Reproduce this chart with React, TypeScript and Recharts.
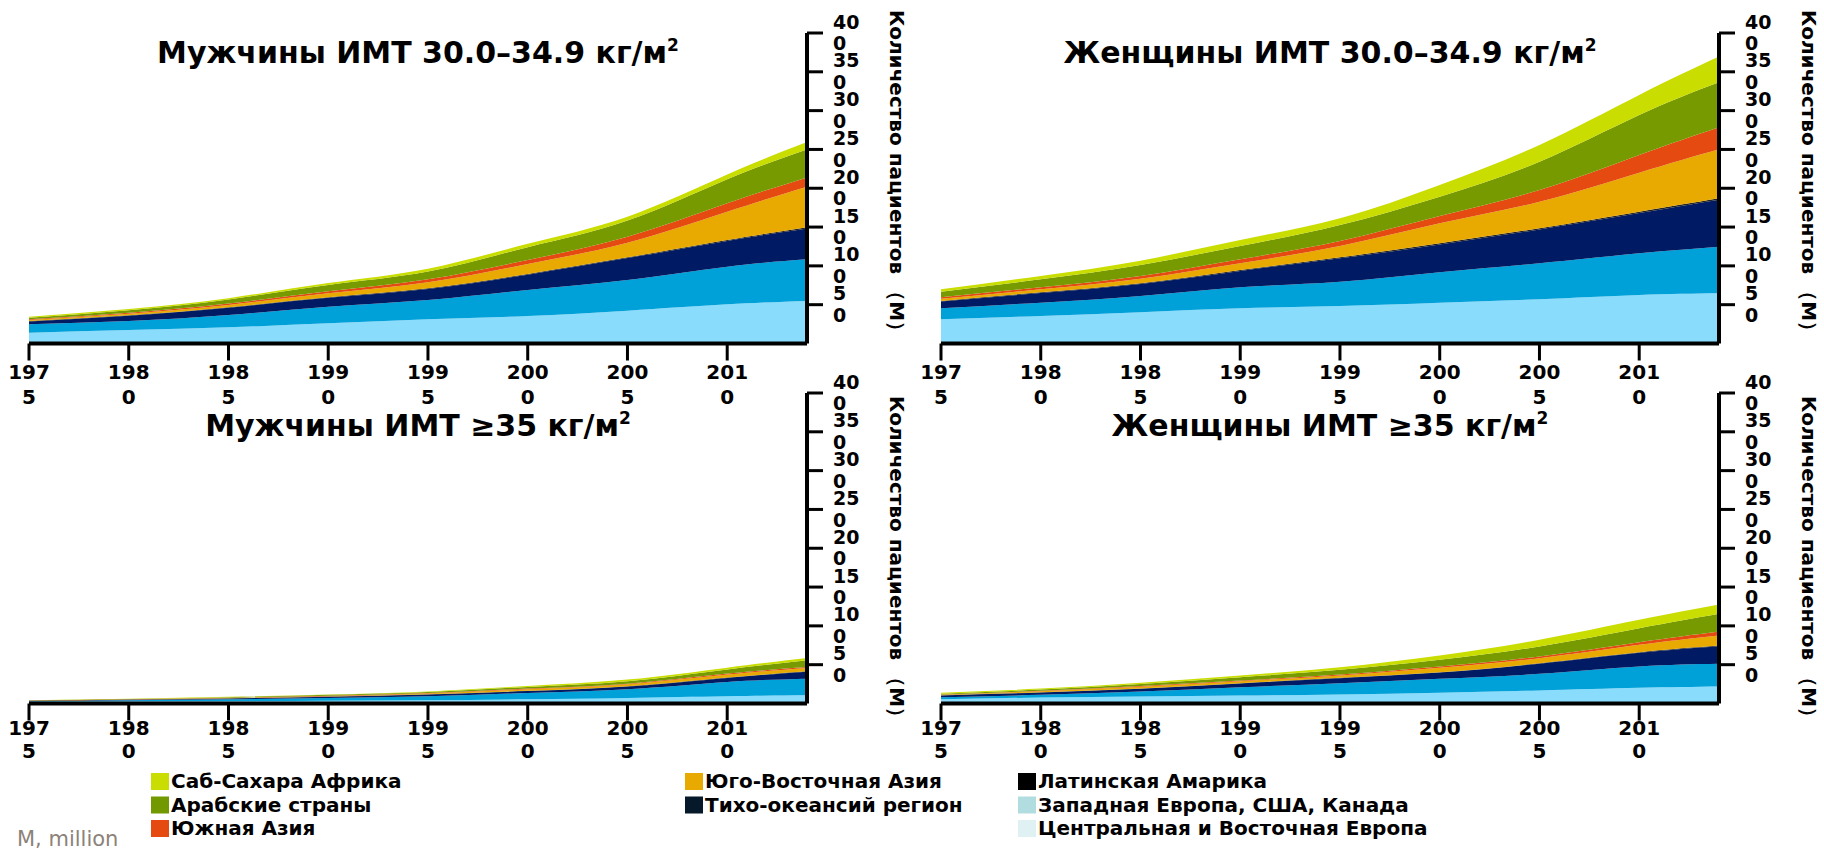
import { AreaChart, Area, XAxis, YAxis } from "recharts";

const FONT = "'DejaVu Sans', Verdana, sans-serif";

const years = [1975, 1980, 1985, 1990, 1995, 2000, 2005, 2010, 2014];
const xTicks = [1975, 1980, 1985, 1990, 1995, 2000, 2005, 2010];
const yTicks = [50, 100, 150, 200, 250, 300, 350, 400];

// Мужчины ИМТ 30.0–34.9, млн, снизу вверх
const m30Cee = [13.9, 17.4, 20.9, 26.0, 31.2, 35.4, 42.3, 50.5, 54.8];
const m30Weu = [10.8, 11.6, 15.8, 21.4, 24.8, 33.6, 39.5, 48.5, 53.7];
const m30Lat = [3.8, 6.8, 9.3, 11.4, 14.3, 19.6, 28.2, 33.2, 39.8];
const m30Pac = [0.5, 0.5, 0.6, 0.7, 0.8, 1.0, 1.0, 1.2, 1.4];
const m30Sea = [1.3, 2.1, 3.0, 5.2, 7.8, 12.8, 18.9, 36.4, 52.3];
const m30Sas = [0.9, 1.3, 2.0, 2.6, 3.8, 5.2, 7.7, 10.9, 12.0];
const m30Arb = [2.0, 3.1, 5.0, 8.2, 9.9, 16.4, 20.7, 30.9, 36.0];
const m30Ssa = [1.3, 1.6, 1.8, 2.4, 3.8, 4.4, 5.1, 6.0, 9.5];

// Женщины ИМТ 30.0–34.9
const w30Cee = [31.2, 35.4, 40.2, 45.4, 48.3, 52.6, 57.0, 62.5, 64.7];
const w30Weu = [14.2, 17.2, 21.0, 27.0, 31.3, 39.2, 46.4, 53.7, 60.0];
const w30Lat = [8.6, 12.4, 15.4, 21.1, 30.1, 35.8, 43.5, 51.8, 60.4];
const w30Pac = [0.8, 1.0, 1.0, 1.2, 1.3, 1.5, 1.6, 1.8, 2.0];
const w30Sea = [2.9, 3.8, 5.9, 8.7, 14.6, 25.8, 34.2, 50.3, 63.2];
const w30Sas = [1.8, 2.6, 3.5, 5.1, 6.5, 9.4, 15.1, 22.8, 28.3];
const w30Arb = [7.3, 10.3, 14.2, 17.1, 20.6, 24.9, 36.5, 51.6, 58.0];
const w30Ssa = [3.0, 4.3, 5.5, 7.8, 8.6, 15.1, 21.5, 25.7, 33.0];

// Мужчины ИМТ ≥35
const m35Cee = [2.3, 2.8, 3.2, 3.7, 4.1, 5.4, 7.1, 9.3, 10.6];
const m35Weu = [0.7, 1.3, 2.2, 3.4, 5.2, 8.1, 11.2, 18.4, 21.4];
const m35Lat = [0.4, 0.8, 1.1, 1.6, 2.2, 2.5, 3.6, 5.3, 9.0];
const m35Pac = [0.1, 0.1, 0.2, 0.2, 0.3, 0.3, 0.3, 0.4, 0.5];
const m35Sea = [0.2, 0.3, 0.4, 0.6, 1.2, 2.0, 2.5, 3.8, 4.2];
const m35Sas = [0.1, 0.2, 0.3, 0.5, 0.5, 0.9, 0.9, 1.3, 1.3];
const m35Arb = [0.3, 0.4, 0.8, 1.3, 1.3, 2.1, 3.0, 5.2, 8.7];
const m35Ssa = [0.2, 0.3, 0.4, 0.4, 0.8, 1.3, 2.2, 2.5, 2.9];

// Женщины ИМТ ≥35
const w35Cee = [5.5, 7.7, 9.0, 10.3, 11.6, 13.8, 16.8, 20.2, 21.9];
const w35Weu = [2.6, 3.5, 6.5, 10.7, 14.6, 18.0, 21.5, 27.5, 29.3];
const w35Lat = [2.3, 2.9, 3.5, 4.8, 6.4, 8.0, 13.0, 17.7, 22.7];
const w35Pac = [0.3, 0.3, 0.4, 0.4, 0.5, 0.5, 0.6, 0.7, 0.8];
const w35Sea = [0.5, 1.5, 2.1, 2.5, 3.0, 5.7, 6.5, 9.5, 12.9];
const w35Sas = [0.4, 0.4, 0.9, 0.9, 1.3, 1.7, 2.2, 3.4, 5.2];
const w35Arb = [0.9, 1.6, 2.6, 4.3, 6.0, 8.6, 12.9, 18.0, 22.8];
const w35Ssa = [1.3, 1.3, 1.7, 2.2, 3.4, 5.6, 8.6, 10.9, 12.0];

// stack order, bottom first
const regions = [
  { key: "cee", name: "Центральная и Восточная Европа", fill: "#8adcfc", swatch: "#e0f1f3" },
  { key: "weu", name: "Западная Европа, США, Канада", fill: "#00a1d9", swatch: "#b1dde1" },
  { key: "lat", name: "Латинская Амарика", fill: "#001b63", swatch: "#000000" },
  { key: "pac", name: "Тихо-океансий регион", fill: "#222222", swatch: "#06192a" },
  { key: "sea", name: "Юго-Восточная Азия", fill: "#e8aa00", swatch: "#e8aa00" },
  { key: "sas", name: "Южная Азия", fill: "#e54b11", swatch: "#e54b11" },
  { key: "arb", name: "Арабские страны", fill: "#779a00", swatch: "#739900" },
  { key: "ssa", name: "Саб-Сахара Африка", fill: "#c9dd00", swatch: "#c9dd00" },
];

const buildRows = (series: number[][]) =>
  years.map((year, i) => {
    const row: Record<string, number> = { year };
    regions.forEach((r, j) => (row[r.key] = series[j][i]));
    return row;
  });

const panels = [
  { title: "Мужчины ИМТ 30.0–34.9 кг/м", left: 0, top: 0, row: 0,
    data: buildRows([m30Cee, m30Weu, m30Lat, m30Pac, m30Sea, m30Sas, m30Arb, m30Ssa]) },
  { title: "Женщины ИМТ 30.0–34.9 кг/м", left: 912, top: 0, row: 0,
    data: buildRows([w30Cee, w30Weu, w30Lat, w30Pac, w30Sea, w30Sas, w30Arb, w30Ssa]) },
  { title: "Мужчины ИМТ ≥35 кг/м", left: 0, top: 360, row: 1,
    data: buildRows([m35Cee, m35Weu, m35Lat, m35Pac, m35Sea, m35Sas, m35Arb, m35Ssa]) },
  { title: "Женщины ИМТ ≥35 кг/м", left: 912, top: 360, row: 1,
    data: buildRows([w35Cee, w35Weu, w35Lat, w35Pac, w35Sea, w35Sas, w35Arb, w35Ssa]) },
];

// per-row text offsets
const rowText = [
  { titleY: 63, yTitleY: 175.5, tickDy: 16.4, tickGap: 25 },
  { titleY: 435.5, yTitleY: 561.5, tickDy: 12.3, tickGap: 23 },
];

const legendCols = [
  { x: 151, keys: ["ssa", "arb", "sas"] },
  { x: 685, keys: ["sea", "pac"] },
  { x: 1018, keys: ["lat", "weu", "cee"] },
];

function XTick(props: any) {
  const { x, y, payload, dyFirst, gap } = props;
  const s = String(payload.value);
  return (
    <text x={x} y={y} textAnchor="middle" fontFamily={FONT} fontWeight={700} fontSize={20} fill="#000">
      <tspan x={x} dy={dyFirst}>{s.slice(0, 3)}</tspan>
      <tspan x={x} dy={gap}>{s.slice(3)}</tspan>
    </text>
  );
}

function YTick(props: any) {
  const { x, y, payload } = props;
  const s = String(payload.value);
  return (
    <text x={x} y={y} fontFamily={FONT} fontWeight={700} fontSize={19} fill="#000">
      <tspan x={x + 8} dy={-4.4}>{s.slice(0, -1)}</tspan>
      <tspan x={x + 8} dy={21.6}>{s.slice(-1)}</tspan>
    </text>
  );
}

function Panel({ p }: { p: (typeof panels)[number] }) {
  const t = rowText[p.row];
  return (
    <div style={{ position: "absolute", left: p.left, top: p.top }}>
      <AreaChart width={912} height={424} data={p.data} margin={{ top: 33, right: 0, bottom: 0.5, left: 29 }}>
        {regions.map((r) => (
          <Area
            key={r.key}
            type="natural"
            dataKey={r.key}
            stackId="a"
            stroke="none"
            fill={r.fill}
            fillOpacity={1}
            dot={false}
            activeDot={false}
            isAnimationActive={false}
          />
        ))}
        <XAxis
          dataKey="year"
          type="number"
          domain={[1975, 2014]}
          ticks={xTicks}
          interval={0}
          height={80}
          tickSize={17}
          axisLine={{ stroke: "#000", strokeWidth: 4 }}
          tickLine={{ stroke: "#000", strokeWidth: 3 }}
          tick={(props: any) => <XTick {...props} dyFirst={t.tickDy} gap={t.tickGap} />}
        />
        <YAxis
          orientation="right"
          type="number"
          domain={[0, 400]}
          ticks={yTicks}
          interval={0}
          width={105}
          tickSize={16}
          axisLine={{ stroke: "#000", strokeWidth: 4 }}
          tickLine={{ stroke: "#000", strokeWidth: 3 }}
          tick={(props: any) => <YTick {...props} />}
        />
      </AreaChart>
    </div>
  );
}

export default function App() {
  return (
    <div style={{ position: "absolute", left: 0, top: 0, width: 1824, height: 848, background: "#fff", overflow: "hidden" }}>
      {panels.map((p) => (
        <Panel key={p.title} p={p} />
      ))}
      <svg width={1824} height={848} style={{ position: "absolute", left: 0, top: 0, pointerEvents: "none" }}>
        {panels.map((p) => {
          const t = rowText[p.row];
          const yx = p.left + 897;
          return (
            <g key={p.title}>
              <text x={p.left + 418} y={t.titleY} textAnchor="middle" fontFamily={FONT} fontWeight={700} fontSize={30} fill="#000">
                {p.title}
                <tspan fontSize={17} dy={-12}>2</tspan>
              </text>
              <text
                x={yx}
                y={t.yTitleY}
                transform={`rotate(90 ${yx} ${t.yTitleY})`}
                textAnchor="middle"
                dominantBaseline="central"
                fontFamily={FONT}
                fontWeight={700}
                fontSize={20}
                fill="#000"
              >
                Количество пациентов （М）
              </text>
            </g>
          );
        })}
        {legendCols.map((c) =>
          c.keys.map((k, i) => {
            const r = regions.find((g) => g.key === k)!;
            return (
              <g key={k}>
                <rect x={c.x} y={773 + i * 23.5} width={18} height={17} fill={r.swatch} />
                <text x={c.x + 20} y={788 + i * 23.5} fontFamily={FONT} fontWeight={700} fontSize={20} fill="#000">
                  {r.name}
                </text>
              </g>
            );
          })
        )}
        <text x={17} y={846} fontFamily={FONT} fontSize={21} fill="#8c8279">
          M, million
        </text>
      </svg>
    </div>
  );
}
